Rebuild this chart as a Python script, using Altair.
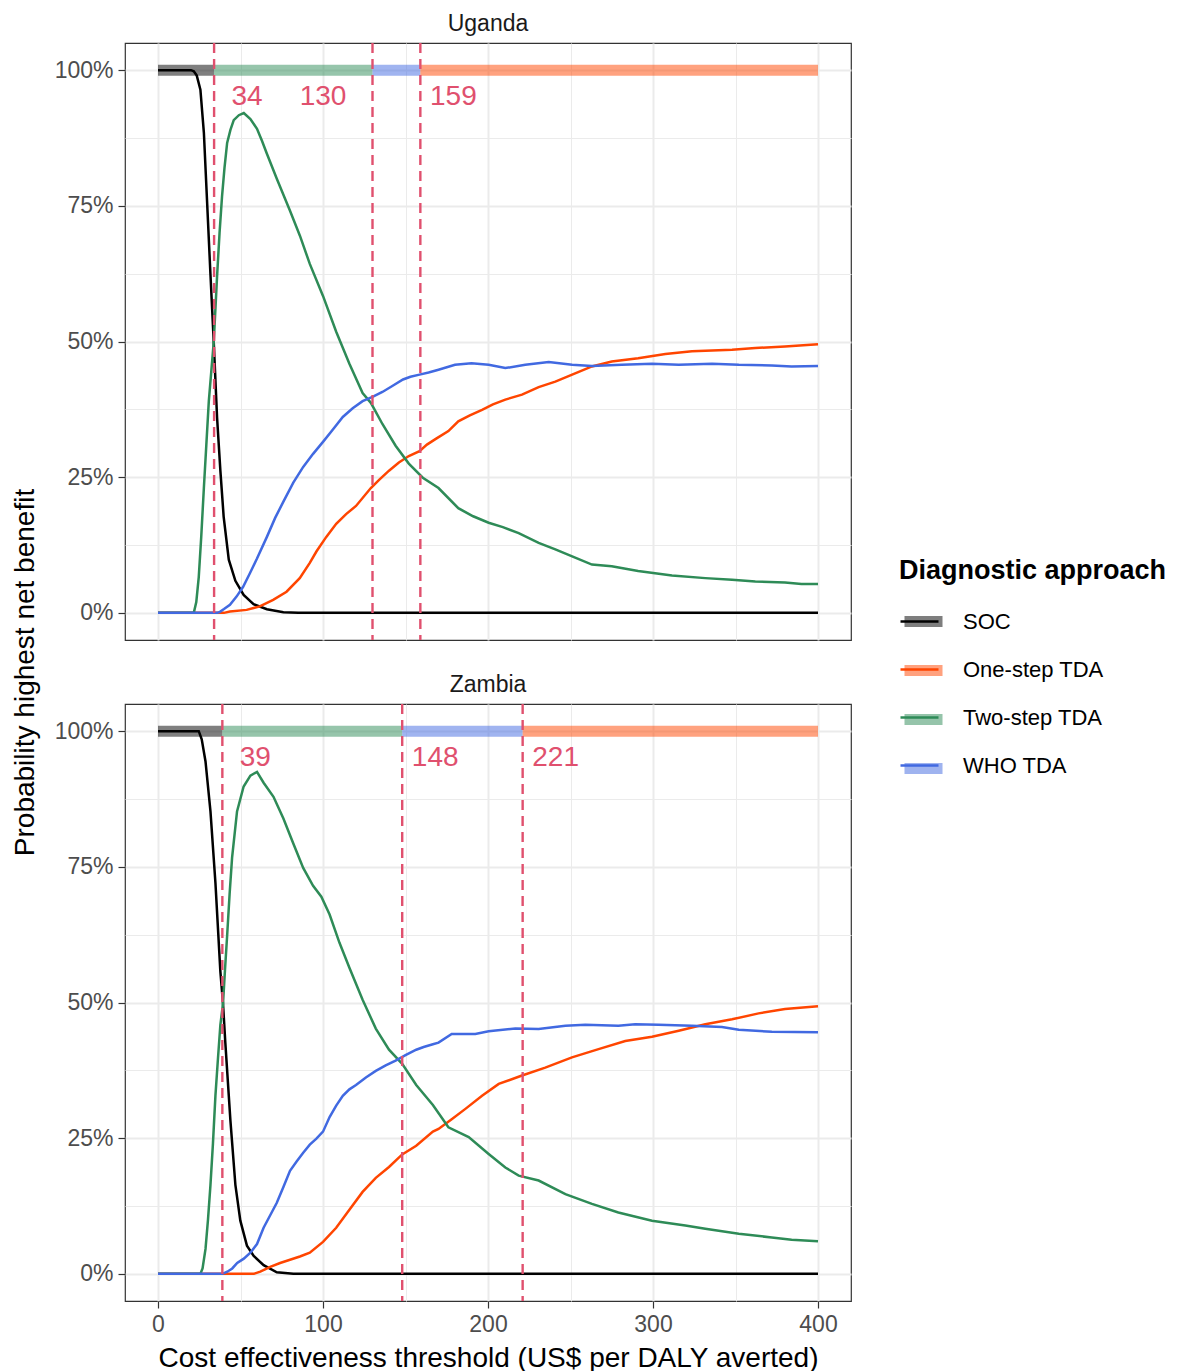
import altair as alt
import pandas as pd

# ---------------- data ----------------
APPROACHES = ["SOC", "One-step TDA", "Two-step TDA", "WHO TDA"]
LINE_COLORS = ["#000000", "#FF4500", "#2E8B57", "#4169E1"]
BAND_ORDER = ["SOC", "Two-step TDA", "WHO TDA", "One-step TDA"]
RED = "#E0506E"

UG_THRESH = [34, 130, 159]
ZM_THRESH = [39, 148, 221]
UG_LABEL_SHIFT = [20, -30, 20]
ZM_LABEL_SHIFT = [20, 20, 20]

UG_SOC_X = [0, 20, 21.7, 23.5, 25.7, 27.8, 29.8, 31.8, 33.8, 35.8, 37.8, 39.8, 42.9, 46.9, 51.9, 57.9, 66, 76, 85, 400]
UG_SOC_Y = [1.0, 1.0, 0.998, 0.99, 0.964, 0.885, 0.754, 0.623, 0.498, 0.36, 0.262, 0.177, 0.098, 0.059, 0.033, 0.016, 0.0066, 0.001, 0.0, 0.0]

UG_TWO_X = [0, 21.7, 23.2, 24.7, 26.2, 27.8, 29.3, 30.8, 32.3, 33.8, 35.8, 37.3, 38.8, 40.3, 41.9, 43.9, 45.9, 49, 52, 56,
            60, 63, 66, 72, 80, 86, 92, 100, 108, 116, 124, 129, 136, 144, 152, 160.5, 170, 182, 191, 200.4,
            209, 218.6, 230.7, 240.8, 251, 263, 275, 291, 311.5, 331.7, 347.9, 362, 380, 390, 400]
UG_TWO_Y = [0, 0, 0.02, 0.066, 0.14, 0.23, 0.31, 0.39, 0.445, 0.50, 0.62, 0.70, 0.767, 0.82, 0.866, 0.89, 0.908, 0.917, 0.921, 0.91,
            0.892, 0.87, 0.846, 0.80, 0.741, 0.695, 0.643, 0.584, 0.518, 0.459, 0.405, 0.387, 0.348, 0.308, 0.275, 0.249, 0.23, 0.193, 0.178, 0.166,
            0.158, 0.147, 0.129, 0.117, 0.104, 0.089, 0.086, 0.077, 0.069, 0.064, 0.061, 0.058, 0.056, 0.053, 0.053]

UG_WHO_X = [0, 36, 37.5, 40, 43.6, 47.6, 51.6, 55.7, 60, 66, 71, 76, 82, 88, 94, 100, 106, 112, 118, 124,
            130, 136, 142, 148.5, 153, 158.5, 164, 170, 180, 190, 200.4, 210.5, 222.6, 236.8, 251, 263, 281, 299.4, 315.6, 335.8,
            352, 372, 384, 400]
UG_WHO_Y = [0, 0, 0.002, 0.007, 0.015, 0.03, 0.048, 0.073, 0.10, 0.14, 0.175, 0.205, 0.24, 0.269, 0.293, 0.315, 0.338, 0.361, 0.377, 0.39,
            0.398, 0.407, 0.418, 0.43, 0.435, 0.439, 0.443, 0.448, 0.457, 0.46, 0.457, 0.451, 0.457, 0.462, 0.457, 0.455, 0.457, 0.459, 0.457, 0.459,
            0.457, 0.456, 0.454, 0.455]

UG_ONE_X = [0, 40, 43.6, 53.7, 61.7, 69.8, 77.9, 85.9, 92, 96, 102, 108, 114, 120, 129, 134, 140, 146, 152, 158.5,
            163, 168.6, 176, 182, 189, 196.4, 203, 210.5, 220.6, 230.7, 240.8, 251, 263, 275, 291, 307.5, 323.6, 347.9, 362, 380, 400]
UG_ONE_Y = [0, 0, 0.0024, 0.0055, 0.012, 0.024, 0.039, 0.064, 0.092, 0.113, 0.14, 0.164, 0.182, 0.197, 0.23, 0.245, 0.262, 0.277, 0.289, 0.298,
            0.31, 0.321, 0.335, 0.353, 0.364, 0.374, 0.384, 0.393, 0.402, 0.416, 0.426, 0.439, 0.454, 0.463, 0.469, 0.477, 0.482, 0.485, 0.488, 0.491, 0.495]

ZM_SOC_X = [0, 24.7, 26.5, 28.8, 31.8, 34.8, 37.8, 39.4, 40.8, 43.9, 46.9, 49.9, 53.9, 58, 64, 72, 82, 400]
ZM_SOC_Y = [1.0, 1.0, 0.985, 0.944, 0.852, 0.721, 0.557, 0.498, 0.426, 0.282, 0.164, 0.098, 0.052, 0.033, 0.016, 0.003, 0.0, 0.0]

ZM_TWO_X = [0, 25.7, 27, 28.8, 30.3, 31.8, 33.3, 34.8, 36.3, 37.8, 39.4, 40.6, 41.9, 43.4, 44.9, 47.9, 51.9, 56, 60, 64,
            70, 76, 82, 88, 94, 99, 104, 110, 116, 124, 132, 140, 148, 156.5, 166.6, 176, 188.3, 200.4, 210.5, 218.6,
            230.7, 246.9, 263, 279, 299.4, 319.6, 331.7, 352, 372, 384, 400]
ZM_TWO_Y = [0, 0, 0.01, 0.046, 0.10, 0.164, 0.24, 0.328, 0.395, 0.459, 0.498, 0.56, 0.623, 0.70, 0.767, 0.852, 0.898, 0.918, 0.925, 0.905,
            0.879, 0.839, 0.793, 0.748, 0.715, 0.695, 0.662, 0.61, 0.564, 0.505, 0.452, 0.413, 0.387, 0.348, 0.311, 0.27, 0.252, 0.221, 0.196, 0.181,
            0.172, 0.147, 0.129, 0.113, 0.098, 0.089, 0.083, 0.074, 0.067, 0.063, 0.06]

ZM_WHO_X = [0, 39, 42, 45, 48, 52, 56, 60, 64, 68, 72, 76, 80, 84, 88, 92, 96, 100, 104, 108,
            112, 116, 120, 126, 132, 138, 144, 150, 156.5, 161, 166.6, 170, 178, 192.3, 200.4, 216.6, 230.7, 246.9, 259, 279,
            289.2, 303.4, 323.6, 341.8, 352, 372, 400]
ZM_WHO_Y = [0, 0, 0.004, 0.01, 0.02, 0.028, 0.039, 0.055, 0.085, 0.108, 0.131, 0.16, 0.19, 0.207, 0.223, 0.238, 0.249, 0.262, 0.289, 0.31,
            0.328, 0.34, 0.348, 0.362, 0.374, 0.384, 0.393, 0.403, 0.413, 0.418, 0.423, 0.426, 0.442, 0.442, 0.447, 0.452, 0.451, 0.457, 0.459, 0.457,
            0.46, 0.459, 0.457, 0.455, 0.45, 0.446, 0.445]

ZM_ONE_X = [0, 58, 62, 68, 74, 80, 86, 92, 100, 108, 116, 124, 132, 140, 148, 156.5, 166.6, 170, 178, 186.3,
            196.4, 206.5, 220.2, 234.7, 250.9, 267, 283.2, 299.4, 315.6, 331.7, 347.9, 364, 380, 400]
ZM_ONE_Y = [0, 0, 0.004, 0.013, 0.02, 0.026, 0.032, 0.039, 0.059, 0.085, 0.118, 0.151, 0.177, 0.197, 0.22, 0.236, 0.262, 0.267, 0.285, 0.304,
            0.328, 0.35, 0.365, 0.38, 0.399, 0.414, 0.429, 0.437, 0.448, 0.46, 0.469, 0.48, 0.488, 0.493]

X_MAX = 400
LABEL_P = 0.95

# ---------------- layout constants ----------------
W, H = 726, 597
GAP = 64
FONT = "Liberation Sans"
LEG_X, LEG_Y = 774, 515
BAND_LEG_DY = 39
LEG_TITLE_FS = 27
LEG_TITLE_PAD = 16
BAND_PREFIX = "band: "
BAND_DOMAIN = [BAND_PREFIX + a for a in APPROACHES]


def lines_frame(series):
    frames = []
    for name, xs, ys in series:
        frames.append(pd.DataFrame({"approach": name, "x": xs, "p": ys}))
    return pd.concat(frames, ignore_index=True)


def band_frame(thresh):
    starts = [0] + thresh
    ends = thresh + [X_MAX]
    return pd.DataFrame({"band": [BAND_PREFIX + a for a in BAND_ORDER], "x": starts, "x_end": ends,
                         "p": [1.0] * 4})


x_scale = alt.Scale(domain=[-20, 420], nice=False, zero=False)
y_scale = alt.Scale(domain=[-0.05, 1.05], nice=False, zero=False)

x_grid_w = {"condition": {"test": "datum.value % 100 === 0", "value": 2}, "value": 1}
x_tick_op = {"condition": {"test": "datum.value % 100 === 0", "value": 1}, "value": 0}
y_grid_w = {"condition": {"test": "(datum.value * 4) % 1 === 0", "value": 2}, "value": 1}
y_tick_op = {"condition": {"test": "(datum.value * 4) % 1 === 0", "value": 1}, "value": 0}

X_VALUES = list(range(0, 401, 50))
Y_VALUES = [i * 0.125 for i in range(9)]

line_legend = alt.Legend(
    orient="none", legendX=LEG_X, legendY=LEG_Y, title="Diagnostic approach",
    symbolType="stroke", symbolSize=1444, symbolStrokeWidth=2.6,
    titleFontSize=LEG_TITLE_FS, titleFontWeight="bold", titleColor="#000000", titleLimit=500,
    titlePadding=LEG_TITLE_PAD, labelFontSize=22, labelColor="#000000", labelLimit=400,
    labelOffset=23, rowPadding=16, zindex=2,
)
band_legend = alt.Legend(
    orient="none", legendX=LEG_X, legendY=LEG_Y + BAND_LEG_DY, title=None,
    symbolType="stroke", symbolSize=1444, symbolStrokeWidth=11, symbolOpacity=0.5,
    labelExpr="''", labelFontSize=22, labelOffset=23, rowPadding=2, zindex=1,
)


def panel(country, series, thresh, shifts, top):
    if top:
        x_axis = alt.Axis(values=X_VALUES, labels=False, ticks=False, domain=False, title=None,
                          gridWidth=x_grid_w)
        y_axis = alt.Axis(values=Y_VALUES, title="Probability highest net benefit",
                          titleY=(2 * H + GAP) / 2, titleFontSize=28, titleFontWeight="normal",
                          titleColor="#000000", titlePadding=15,
                          labelExpr="(datum.value * 4) % 1 === 0 ? format(datum.value, '.0%') : ''",
                          gridWidth=y_grid_w, tickOpacity=y_tick_op, labelOverlap=False)
    else:
        x_axis = alt.Axis(values=X_VALUES, title="Cost effectiveness threshold (US$ per DALY averted)",
                          titleFontSize=28, titleFontWeight="normal", titleColor="#000000",
                          labelExpr="datum.value % 100 === 0 ? datum.label : ''",
                          gridWidth=x_grid_w, tickOpacity=x_tick_op, labelOverlap=False,
                          labelFlush=False, titlePadding=8)
        y_axis = alt.Axis(values=Y_VALUES, title=None,
                          labelExpr="(datum.value * 4) % 1 === 0 ? format(datum.value, '.0%') : ''",
                          gridWidth=y_grid_w, tickOpacity=y_tick_op, labelOverlap=False)

    x_enc = alt.X("x:Q", scale=x_scale, axis=x_axis)
    y_enc = alt.Y("p:Q", scale=y_scale, axis=y_axis)

    band = alt.Chart(band_frame(thresh)).mark_rule(strokeWidth=11, opacity=0.5, strokeCap="butt").encode(
        x=x_enc, x2="x_end:Q", y=y_enc,
        stroke=alt.Stroke("band:N", scale=alt.Scale(domain=BAND_DOMAIN, range=LINE_COLORS), legend=band_legend),
    )
    lines = alt.Chart(lines_frame(series)).mark_line(strokeWidth=2.5).encode(
        x=x_enc, y=y_enc,
        color=alt.Color("approach:N", scale=alt.Scale(domain=APPROACHES, range=LINE_COLORS), legend=line_legend),
    )
    th_df = pd.DataFrame({"x": thresh})
    vlines = alt.Chart(th_df).mark_rule(strokeDash=[10, 6], strokeWidth=2.4, color=RED).encode(x=x_enc)
    lab_df = pd.DataFrame({"x": [t + s for t, s in zip(thresh, shifts)],
                           "p": [LABEL_P] * len(thresh),
                           "label": [str(t) for t in thresh]})
    labels = alt.Chart(lab_df).mark_text(fontSize=28, color=RED, align="center", baseline="middle").encode(
        x=x_enc, y=y_enc, text="label:N")

    return alt.layer(band, lines, vlines, labels).properties(
        width=W, height=H,
        title=alt.TitleParams(country, fontSize=23, fontWeight="normal", color="#1A1A1A", offset=6),
    )


ug = panel("Uganda", [("SOC", UG_SOC_X, UG_SOC_Y), ("One-step TDA", UG_ONE_X, UG_ONE_Y),
                      ("Two-step TDA", UG_TWO_X, UG_TWO_Y), ("WHO TDA", UG_WHO_X, UG_WHO_Y)],
           UG_THRESH, UG_LABEL_SHIFT, True)
zm = panel("Zambia", [("SOC", ZM_SOC_X, ZM_SOC_Y), ("One-step TDA", ZM_ONE_X, ZM_ONE_Y),
                      ("Two-step TDA", ZM_TWO_X, ZM_TWO_Y), ("WHO TDA", ZM_WHO_X, ZM_WHO_Y)],
           ZM_THRESH, ZM_LABEL_SHIFT, False)

chart = alt.vconcat(ug, zm, spacing=GAP, bounds="flush").properties(
    padding={"top": 4, "left": 2, "right": 5, "bottom": 5}
).configure(
    font=FONT
).configure_view(
    stroke="#333333", strokeWidth=1.2
).configure_axis(
    gridColor="#EBEBEB", domain=False, tickColor="#333333", tickSize=7, tickWidth=1.2,
    labelColor="#4D4D4D", labelFontSize=23, labelPadding=5, labelFont=FONT, titleFont=FONT,
).configure_legend(
    labelFont=FONT, titleFont=FONT,
)

chart.save("out.html", embed_options={"renderer": "svg", "actions": False})
